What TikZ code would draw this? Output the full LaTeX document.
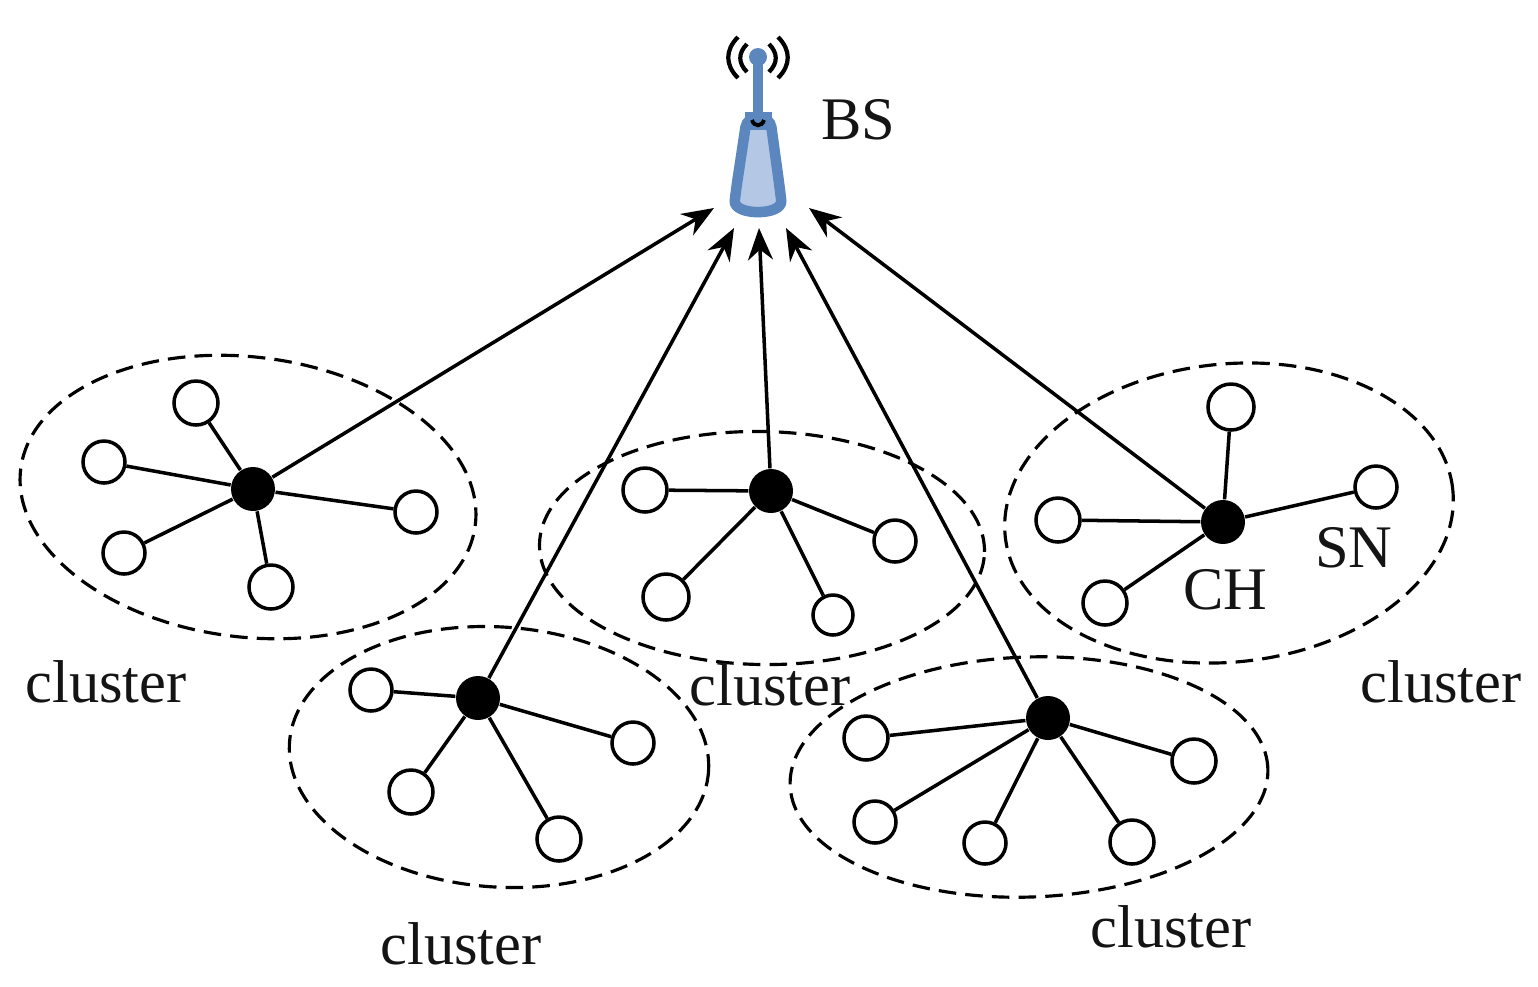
\documentclass[tikz,border=0pt]{standalone}
\usepackage{fontspec}
\setmainfont{Liberation Serif}
\usetikzlibrary{arrows.meta,shapes.geometric}
\definecolor{bsblue}{HTML}{5B87BE}
\definecolor{bslight}{HTML}{B4C8E6}
\tikzset{
  sensor/.style={circle,line width=1pt,draw=black,fill=white,minimum size=0.42cm,inner sep=0pt},
  head/.style={circle,fill=black,minimum size=0.44cm,inner sep=0pt},
  area/.style={ellipse,draw=black,line width=0.9pt,dash pattern=on 5pt off 2.6pt,inner sep=0pt},
  label/.style={font=\fontsize{17.2pt}{19pt}\selectfont,inner sep=0pt,text=black!92},
  uplink/.style={draw=black,line width=1pt,-{Stealth[length=0.32cm,width=0.25cm]}}
}
\begin{document}
\begin{tikzpicture}
\useasboundingbox (0,0) rectangle (15.38,-9.86);

% clusters
\begin{scope}[every node/.style={area}]
    \node (R1)[minimum width=4.58cm,minimum height=2.8cm,rotate=-7] at (2.48,-4.97) {};
    \node (R2)[minimum width=4.45cm,minimum height=2.33cm,rotate=-1] at (7.62,-5.48) {};
    \node (R3)[minimum width=4.5cm,minimum height=2.98cm,rotate=6] at (12.29,-5.13) {};
    \node (R4)[minimum width=4.2cm,minimum height=2.6cm,rotate=-4] at (4.99,-7.57) {};
    \node (R5)[minimum width=4.78cm,minimum height=2.4cm,rotate=2] at (10.29,-7.77) {};
\end{scope}

% base station
\fill[bsblue] (7.58,-0.57) circle (0.09);
\draw[bsblue,line width=2.8pt] (7.58,-0.6) -- (7.58,-1.18);
\draw[bsblue,fill=bslight,line width=3pt,rounded corners=3pt] (7.47,-1.17) -- (7.7,-1.17)
    -- (7.8,-1.9) .. controls (7.83,-2.16) and (7.33,-2.16) .. (7.36,-1.9) -- cycle;
\fill[bsblue] (7.45,-1.12) rectangle (7.72,-1.3);
\draw[black,line width=1.1pt] (7.52,-1.2) .. controls (7.54,-1.27) and (7.62,-1.27) .. (7.64,-1.2);
\draw[black,line width=1.2pt] (7.38,-0.37) .. controls (7.25,-0.5) and (7.25,-0.65) .. (7.38,-0.78);
\draw[black,line width=1.2pt] (7.47,-0.44) .. controls (7.38,-0.53) and (7.38,-0.63) .. (7.47,-0.72);
\draw[black,line width=1.2pt] (7.78,-0.37) .. controls (7.91,-0.5) and (7.91,-0.65) .. (7.78,-0.78);
\draw[black,line width=1.2pt] (7.69,-0.44) .. controls (7.78,-0.53) and (7.78,-0.63) .. (7.69,-0.72);

\coordinate (T1) at (7.14,-2.08);
\coordinate (T2) at (7.34,-2.28);
\coordinate (T3) at (7.59,-2.28);
\coordinate (T4) at (7.86,-2.28);
\coordinate (T5) at (8.09,-2.08);

% cluster heads
\begin{scope}[every node/.style={head}]
    \node (H1) at (2.53,-4.89) {};
    \node (H2) at (7.71,-4.91) {};
    \node (H3) at (12.23,-5.22) {};
    \node (H4) at (4.78,-6.98) {};
    \node (H5) at (10.48,-7.18) {};
\end{scope}

% sensor nodes
\begin{scope}[every node/.style={sensor}]
    \node (A1)[minimum size=0.44cm] at (1.96,-4.03) {};
    \node (A2) at (1.04,-4.62) {};
    \node (A3) at (1.24,-5.53) {};
    \node (A4)[minimum size=0.44cm] at (2.71,-5.87) {};
    \node (A5) at (4.16,-5.12) {};

    \node (B1)[minimum size=0.44cm] at (6.45,-4.9) {};
    \node (B2)[minimum size=0.46cm] at (6.66,-5.97) {};
    \node (B3)[minimum size=0.4cm] at (8.33,-6.15) {};
    \node (B4) at (8.95,-5.41) {};

    \node (C1)[minimum size=0.46cm] at (12.31,-4.07) {};
    \node (C2)[minimum size=0.44cm] at (10.58,-5.2) {};
    \node (C3)[minimum size=0.44cm] at (11.05,-6.03) {};
    \node (C4) at (13.76,-4.87) {};

    \node (D1) at (3.71,-6.9) {};
    \node (D2)[minimum size=0.44cm] at (4.11,-7.92) {};
    \node (D3)[minimum size=0.44cm] at (5.59,-8.39) {};
    \node (D4) at (6.33,-7.43) {};

    \node (E1)[minimum size=0.44cm] at (8.66,-7.38) {};
    \node (E2) at (8.75,-8.22) {};
    \node (E3) at (9.85,-8.43) {};
    \node (E4)[minimum size=0.44cm] at (11.32,-8.42) {};
    \node (E5)[minimum size=0.44cm] at (11.94,-7.61) {};
\end{scope}

\begin{scope}[every edge/.style={draw=black,line width=1pt}]
    \path (H1) edge (A1);
    \path (H1) edge (A2);
    \path (H1) edge (A3);
    \path (H1) edge (A4);
    \path (H1) edge (A5);
    \path (H2) edge (B1);
    \path (H2) edge (B2);
    \path (H2) edge (B3);
    \path (H2) edge (B4);
    \path (H3) edge (C1);
    \path (H3) edge (C2);
    \path (H3) edge (C3);
    \path (H3) edge (C4);
    \path (H4) edge (D1);
    \path (H4) edge (D2);
    \path (H4) edge (D3);
    \path (H4) edge (D4);
    \path (H5) edge (E1);
    \path (H5) edge (E2);
    \path (H5) edge (E3);
    \path (H5) edge (E4);
    \path (H5) edge (E5);
\end{scope}

% links to the base station
\draw[uplink] (H1) -- (T1);
\draw[uplink] (H4) -- (T2);
\draw[uplink] (H2) -- (T3);
\draw[uplink] (H5) -- (T4);
\draw[uplink] (H3) -- (T5);

\begin{scope}[every node/.style={label}]
    \node (BS) at (8.58,-1.2) {BS};
    \node (CH) at (12.25,-5.9) {CH};
    \node (SN) at (13.54,-5.48) {SN};
    \node (L1) at (1.06,-6.82) {cluster};
    \node (L2) at (7.7,-6.85) {cluster};
    \node (L3) at (14.41,-6.82) {cluster};
    \node (L4) at (4.61,-9.44) {cluster};
    \node (L5) at (11.71,-9.27) {cluster};
\end{scope}
\end{tikzpicture}
\end{document}
